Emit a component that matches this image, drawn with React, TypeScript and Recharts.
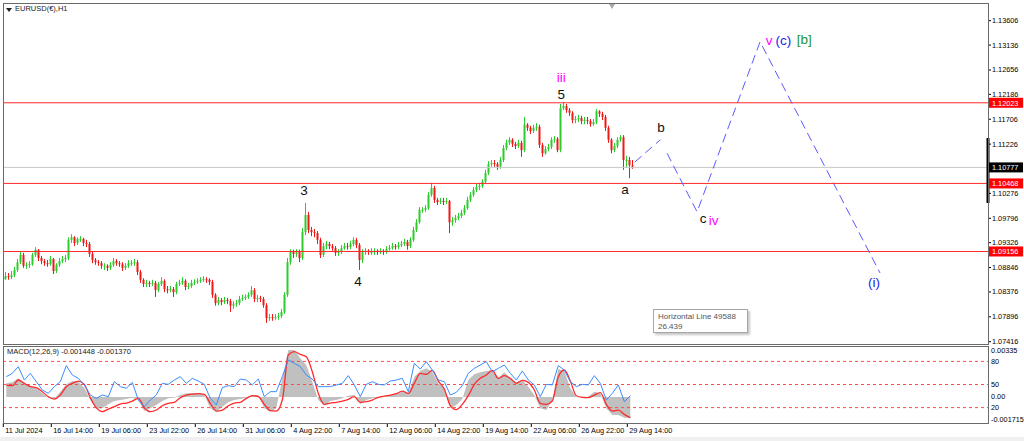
import React from "react";
import {
  ComposedChart,
  Bar,
  Line,
  Area,
  XAxis,
  YAxis,
  ReferenceLine,
  ReferenceDot,
} from "recharts";

// EURUSD H1, 11 Jul - 29 Aug 2024. One candle here stands for 4 hourly bars.
const firstOpen = 1.0862;
const closes = [
  1.0868, 1.0866, 1.087, 1.088, 1.0895, 1.0909, 1.0888, 1.089, 1.0891, 1.0909,
  1.0919, 1.0903, 1.0897, 1.0893, 1.0891, 1.0901, 1.0878, 1.089, 1.0897, 1.0901,
  1.0903, 1.0938, 1.0943, 1.0932, 1.094, 1.094, 1.0932, 1.093, 1.0911, 1.0899,
  1.0895, 1.0893, 1.0888, 1.0888, 1.0884, 1.089, 1.0897, 1.0893, 1.0891, 1.0884,
  1.0888, 1.0893, 1.0893, 1.0895, 1.0876, 1.0861, 1.0853, 1.0855, 1.0853, 1.0855,
  1.0841, 1.0853, 1.0859, 1.0843, 1.0841, 1.0843, 1.0837, 1.0853, 1.0855, 1.0859,
  1.0847, 1.0849, 1.0855, 1.0857, 1.0859, 1.0861, 1.0862, 1.0861, 1.0857, 1.0832,
  1.0816, 1.0822, 1.0818, 1.0822, 1.082, 1.0811, 1.0814, 1.0816, 1.0824, 1.0826,
  1.0828, 1.0832, 1.0841, 1.0824, 1.0826, 1.0824, 1.0812, 1.0787, 1.0789, 1.0787,
  1.0789, 1.0791, 1.0799, 1.0832, 1.0895, 1.0915, 1.0911, 1.0915, 1.0903, 1.0953,
  1.0986, 1.0957, 1.0953, 1.0951, 1.0938, 1.0909, 1.0926, 1.093, 1.0926, 1.0922,
  1.0913, 1.0915, 1.0922, 1.0926, 1.0924, 1.093, 1.0938, 1.0928, 1.0899, 1.0915,
  1.0917, 1.0915, 1.0915, 1.0917, 1.0915, 1.0917, 1.0915, 1.092, 1.0922, 1.0926,
  1.0924, 1.0928, 1.093, 1.0934, 1.0926, 1.0938, 1.0957, 1.0972, 1.0996, 1.0996,
  1.0999, 1.1025, 1.1038, 1.1015, 1.1011, 1.1013, 1.1011, 1.1013, 1.0972, 1.0976,
  1.098, 1.0984, 1.099, 1.0999, 1.1015, 1.1025, 1.1034, 1.104, 1.1042, 1.105,
  1.1067, 1.1084, 1.1086, 1.1084, 1.1079, 1.1092, 1.1115, 1.1125, 1.1131, 1.1123,
  1.1119, 1.1125, 1.1111, 1.116, 1.1154, 1.1148, 1.1154, 1.1156, 1.1121, 1.1105,
  1.1113, 1.1117, 1.1131, 1.1133, 1.1111, 1.1192, 1.1196, 1.1188, 1.1183, 1.1169,
  1.1171, 1.1173, 1.1167, 1.1169, 1.1167, 1.1161, 1.1165, 1.1186, 1.1181, 1.1175,
  1.1154, 1.1131, 1.1111, 1.1119, 1.1131, 1.1136, 1.1092, 1.1092, 1.1082, 1.1079,
];
const highs = [
  1.0876, 1.0874, 1.0878, 1.0886, 1.0901, 1.0915, 1.0913, 1.0895, 1.0897, 1.0913,
  1.0924, 1.092, 1.0907, 1.0901, 1.0899, 1.0907, 1.0903, 1.0893, 1.0903, 1.0907,
  1.0909, 1.0943, 1.0949, 1.0945, 1.0943, 1.0945, 1.0942, 1.0938, 1.0934, 1.0915,
  1.0903, 1.0899, 1.0897, 1.0893, 1.0891, 1.0895, 1.0903, 1.0901, 1.0897, 1.0895,
  1.0893, 1.0899, 1.0899, 1.0901, 1.0899, 1.088, 1.0864, 1.0861, 1.0859, 1.0861,
  1.0859, 1.0857, 1.0866, 1.0862, 1.0849, 1.0849, 1.0847, 1.0857, 1.0861, 1.0866,
  1.0862, 1.0855, 1.0861, 1.0862, 1.0864, 1.0866, 1.0868, 1.0866, 1.0864, 1.0861,
  1.0835, 1.0828, 1.0826, 1.0828, 1.0826, 1.0824, 1.082, 1.0822, 1.083, 1.0832,
  1.0833, 1.0837, 1.0849, 1.0845, 1.0832, 1.083, 1.0828, 1.0816, 1.0795, 1.0795,
  1.0795, 1.0797, 1.0805, 1.0837, 1.0903, 1.092, 1.0919, 1.092, 1.0919, 1.0961,
  1.1009, 1.0992, 1.0963, 1.0959, 1.0955, 1.0942, 1.0932, 1.0936, 1.0934, 1.093,
  1.0926, 1.092, 1.0928, 1.0932, 1.0932, 1.0936, 1.0943, 1.0942, 1.0932, 1.092,
  1.0922, 1.092, 1.0922, 1.0922, 1.092, 1.0922, 1.092, 1.0926, 1.0928, 1.0932,
  1.093, 1.0934, 1.0936, 1.094, 1.0938, 1.0943, 1.0963, 1.0978, 1.1001, 1.1001,
  1.1005, 1.103, 1.1048, 1.1042, 1.1019, 1.1019, 1.1019, 1.1019, 1.1015, 1.0982,
  1.0986, 1.099, 1.0996, 1.1005, 1.1021, 1.103, 1.104, 1.1046, 1.1048, 1.1055,
  1.1073, 1.109, 1.1092, 1.1092, 1.1088, 1.1098, 1.1121, 1.1131, 1.1136, 1.1134,
  1.1127, 1.1131, 1.1129, 1.1175, 1.1163, 1.1158, 1.116, 1.1163, 1.116, 1.1125,
  1.1119, 1.1123, 1.1136, 1.1138, 1.1136, 1.12, 1.1204, 1.12, 1.1192, 1.1186,
  1.1177, 1.1179, 1.1177, 1.1175, 1.1175, 1.1171, 1.1171, 1.119, 1.1188, 1.1185,
  1.1179, 1.1158, 1.1134, 1.1125, 1.1136, 1.114, 1.114, 1.11, 1.1098, 1.1092,
];
const lows = [
  1.0861, 1.0861, 1.0862, 1.0866, 1.0876, 1.0891, 1.0884, 1.0882, 1.0884, 1.0888,
  1.0905, 1.0897, 1.0891, 1.0888, 1.0886, 1.0888, 1.0872, 1.0874, 1.0886, 1.0893,
  1.0895, 1.0899, 1.0932, 1.0926, 1.0928, 1.0934, 1.0926, 1.0924, 1.0905, 1.0893,
  1.089, 1.0888, 1.0882, 1.088, 1.0878, 1.088, 1.0886, 1.0888, 1.0886, 1.0878,
  1.088, 1.0884, 1.0888, 1.0888, 1.087, 1.0855, 1.0847, 1.0847, 1.0847, 1.0849,
  1.0828, 1.0837, 1.0849, 1.0837, 1.0835, 1.0837, 1.0828, 1.0833, 1.0849, 1.0851,
  1.0841, 1.0843, 1.0845, 1.0851, 1.0853, 1.0855, 1.0857, 1.0855, 1.0851, 1.0826,
  1.0811, 1.0812, 1.0812, 1.0814, 1.0814, 1.0799, 1.0805, 1.0809, 1.0812, 1.082,
  1.0822, 1.0824, 1.0828, 1.0818, 1.0818, 1.0818, 1.0807, 1.0778, 1.0782, 1.0782,
  1.0784, 1.0784, 1.0787, 1.0795, 1.0828, 1.089, 1.0903, 1.0905, 1.0895, 1.0899,
  1.0947, 1.0951, 1.0945, 1.0943, 1.093, 1.0903, 1.0905, 1.092, 1.092, 1.0917,
  1.0907, 1.0907, 1.0911, 1.0919, 1.0919, 1.092, 1.0926, 1.0922, 1.088, 1.0893,
  1.0909, 1.0909, 1.0909, 1.0909, 1.0909, 1.0911, 1.0909, 1.0911, 1.0917, 1.0919,
  1.0919, 1.092, 1.0924, 1.0926, 1.0919, 1.0922, 1.0934, 1.0953, 1.0969, 1.099,
  1.0992, 1.0996, 1.1021, 1.1009, 1.1005, 1.1007, 1.1005, 1.1007, 1.0951, 1.0965,
  1.0971, 1.0976, 1.098, 1.0986, 1.0996, 1.1011, 1.1021, 1.103, 1.1034, 1.1038,
  1.1046, 1.1063, 1.1079, 1.1079, 1.1073, 1.1075, 1.1088, 1.1111, 1.1121, 1.1117,
  1.1113, 1.1115, 1.1098, 1.1107, 1.1148, 1.1142, 1.1144, 1.1148, 1.1115, 1.1098,
  1.1102, 1.1109, 1.1113, 1.1125, 1.1107, 1.1107, 1.1188, 1.1183, 1.1177, 1.1163,
  1.1163, 1.1165, 1.1161, 1.1161, 1.1161, 1.1156, 1.1158, 1.1161, 1.1175, 1.1169,
  1.1148, 1.1125, 1.1105, 1.1107, 1.1115, 1.1127, 1.1073, 1.1077, 1.1057, 1.1075,
];

// MACD(12,26,9) window, one point per 8 hourly bars
const macdMain = [
  0.000893, 0.000958, 0.001222, 0.000893, 0.000739, 0.000564, 0.000235, -0.00005, -0.000138, 0.000344,
  0.000827, 0.001046, 0.001002, 0.000607, -0.000204, -0.000796, -0.000752, -0.000489, -0.00027, -0.000204,
  -0.000138, -0.00005, -0.000204, -0.000928, -0.000752, -0.000533, -0.00027, -0.000094, -0.00005, 0.000125,
  0.000235, 0.000235, 0.000235, 0.000125, -0.000752, -0.000971, -0.000643, -0.000357, -0.000204, -0.000138,
  -0.00005, 0.000125, 0.000125, -0.000752, -0.000971, -0.000752, 0.001222, 0.003086, 0.003086, 0.002537,
  0.002099, 0.001002, -0.000204, -0.000577, -0.00027, -0.000204, -0.000094, 0.000081, 0.000125, -0.000489,
  -0.000204, -0.000094, -0.00005, 0.000015, 0.000125, 0.000235, 0.000344, 0.000235, 0.001331, 0.001704,
  0.001879, 0.00166, 0.000893, 0.000607, -0.000752, -0.000533, -0.000138, 0.001112, 0.001485, 0.001616,
  0.001704, 0.00177, 0.001265, 0.001616, 0.001222, 0.000958, 0.001112, 0.000673, 0.000125, -0.000752,
  -0.000862, -0.000204, 0.001836, 0.001704, 0.000564, -0.000007, 0.000015, 0.000015, 0.000344, 0.000235,
  -0.000752, -0.001191, -0.001191, -0.001366, -0.00141,
];
const macdSignal = [
  0.000783, 0.000739, 0.001112, 0.000893, 0.000673, 0.000607, 0.000344, 0.000015, -0.000138, 0.000125,
  0.000673, 0.000893, 0.001046, 0.000827, -0.00005, -0.000708, -0.000971, -0.000796, -0.000643, -0.000467,
  -0.000401, -0.00027, -0.000094, -0.000708, -0.000971, -0.000862, -0.000577, -0.000423, -0.000357, -0.00005,
  0.000125, 0.000191, 0.000213, 0.000169, -0.000423, -0.000928, -0.000862, -0.000577, -0.000401, -0.000357,
  -0.000094, 0.000081, 0.000015, -0.000489, -0.000906, -0.000928, -0.000204, 0.002757, 0.002976, 0.0028,
  0.002647, 0.00166, 0.000235, -0.000489, -0.000401, -0.000357, -0.00027, -0.00016, 0.000015, -0.000357,
  -0.000314, -0.000204, -0.000029, 0.000059, 0.000125, 0.000213, 0.000388, 0.000235, 0.000893, 0.00155,
  0.001485, 0.001748, 0.001046, 0.00052, -0.000577, -0.00084, -0.000489, 0.000081, 0.000827, 0.001222,
  0.001441, 0.001748, 0.001222, 0.001397, 0.001222, 0.000893, 0.00109, 0.000958, 0.000454, -0.000423,
  -0.000489, -0.00027, 0.001331, 0.00177, 0.001046, 0.000081, -0.000029, -0.00005, 0.000125, 0.000279,
  -0.000489, -0.000928, -0.000862, -0.001147, -0.001366,
];
const oscLine = [
  60.2, 64.5, 73.2, 55.8, 64.5, 53.7, 42.9, 38.5, 47.2, 53.7,
  74.5, 62.3, 58.0, 49.4, 36.4, 32.0, 36.4, 34.2, 53.7, 47.2,
  45.0, 52.8, 29.9, 21.2, 29.9, 36.4, 51.5, 50.2, 55.8, 60.2,
  51.5, 58.0, 54.5, 50.2, 32.0, 23.4, 45.9, 48.5, 47.2, 57.1,
  55.8, 49.4, 57.1, 34.2, 40.7, 40.7, 60.2, 81.8, 77.5, 73.2,
  62.3, 57.1, 47.2, 47.2, 47.2, 49.4, 51.5, 61.5, 49.4, 34.2,
  50.2, 53.7, 50.2, 49.4, 54.5, 55.8, 58.0, 40.7, 77.5, 70.1,
  79.7, 68.8, 55.8, 53.7, 36.4, 39.8, 48.5, 64.5, 71.0, 75.3,
  79.7, 66.7, 71.0, 75.3, 64.5, 55.8, 67.5, 55.8, 49.4, 34.2,
  50.2, 49.4, 74.5, 68.8, 53.7, 47.2, 50.2, 49.4, 61.5, 51.5,
  29.9, 38.5, 49.4, 27.7, 35.5,
];
const oscLevels = [80, 50, 20];
const macdTicks = [0.00335, 0, -0.001715];
const macdTickLabels = ["0.00335", "0.00", "-0.001715"];

const priceTicks = [
  1.13606, 1.13136, 1.12656, 1.12186, 1.11706, 1.11226, 1.10276,
  1.09796, 1.09326, 1.08846, 1.08376, 1.07896, 1.07416,
];
const levelLines = [1.12023, 1.10468, 1.09156];
const bidPrice = 1.10777;

const timeTicks = [0, 64, 128, 192, 256, 320, 384, 448, 512, 576, 640, 704, 768, 832];
const timeLabels = [
  "11 Jul 2024", "16 Jul 14:00", "19 Jul 06:00", "23 Jul 22:00", "26 Jul 14:00",
  "31 Jul 06:00", "4 Aug 22:00", "7 Aug 14:00", "12 Aug 06:00", "14 Aug 22:00",
  "19 Aug 14:00", "22 Aug 06:00", "26 Aug 22:00", "29 Aug 14:00",
];

// projected wave path (bar index, price)
const projectionAB = [
  { i: 842, p: 1.1088 },
  { i: 876, p: 1.1131 },
];
const projectionCVI = [
  { i: 885, p: 1.1105 },
  { i: 925, p: 1.0992 },
  { i: 1009, p: 1.132 },
  { i: 1169, p: 1.0874 },
];

const waveLabels = [
  { text: "3", i: 401, p: 1.1034, degree: "minor" },
  { text: "4", i: 473, p: 1.0857, degree: "minor" },
  { text: "iii", i: 744, p: 1.1251, degree: "minute" },
  { text: "5", i: 744, p: 1.1219, degree: "minor" },
  { text: "a", i: 829, p: 1.1036, degree: "minor" },
  { text: "b", i: 877, p: 1.1154, degree: "minor" },
  { text: "c", i: 933, p: 1.098, degree: "minor" },
  { text: "iv", i: 947, p: 1.0976, degree: "minute" },
  { text: "v", i: 1021, p: 1.1322, degree: "minute" },
  { text: "(c)", i: 1040, p: 1.1323, degree: "minuette" },
  { text: "[b]", i: 1068, p: 1.1325, degree: "primary" },
  { text: "(i)", i: 1161, p: 1.0855, degree: "minuette" },
];

const degreeColors: Record<string, string> = {
  minor: "#111111",
  minute: "#ff00ff",
  minuette: "#2222ee",
  primary: "#22962a",
};

const UP = "#2ccc2c";
const DOWN = "#f01818";
const LEVEL = "#ff2a2a";
const UI_FONT = '"Liberation Sans", Arial, sans-serif';

const X_DOMAIN: [number, number] = [-0.4, 1312.9];
const PRICE_DOMAIN: [number, number] = [1.07372, 1.13947];
const MACD_DOMAIN: [number, number] = [-0.001715, 0.00335];

const candles = closes.map((close, k) => ({
  i: 4 * k + 2,
  open: k === 0 ? firstOpen : closes[k - 1],
  close,
  high: highs[k],
  low: lows[k],
  range: [lows[k], highs[k]],
}));

const macdData = macdMain.map((main, m) => ({
  i: 8 * m + 4,
  main,
  signal: macdSignal[m],
  osc: oscLine[m],
}));

const Candle = (props: any) => {
  const { x, y, width, height, payload } = props;
  if (x == null || y == null || !payload) return null;
  const top = Math.min(y, y + height);
  const h = Math.abs(height);
  const { open, close, high, low } = payload;
  const span = high - low || 1e-9;
  const toY = (v: number) => top + ((high - v) / span) * h;
  const color = close >= open ? UP : DOWN;
  const cx = Math.round(x + width / 2);
  const bTop = toY(Math.max(open, close));
  const bBot = toY(Math.min(open, close));
  return (
    <g>
      <line x1={cx + 0.5} x2={cx + 0.5} y1={top} y2={top + h} stroke={color} strokeWidth={1} />
      <rect x={cx - 0.5} y={bTop} width={2} height={Math.max(1, bBot - bTop)} fill={color} />
    </g>
  );
};

const PriceTick = (props: any) => {
  const { x, y, payload } = props;
  return (
    <text x={x} y={y} dominantBaseline="central" fontSize={7.3} fontFamily={UI_FONT} fill="#000">
      {payload.value.toFixed(5)}
    </text>
  );
};

const PriceTag = ({ cx, cy, label, bg }: any) => (
  <g>
    <rect x={cx + 1} y={cy - 5} width={34} height={10} fill={bg} />
    <text x={cx + 4} y={cy + 0.5} dominantBaseline="central" fontSize={7.3} fontFamily={UI_FONT} fill="#fff">
      {label}
    </text>
  </g>
);

const TimeTick = (props: any) => {
  const { x, y, payload } = props;
  const idx = timeTicks.indexOf(payload.value);
  return (
    <text x={x + 2} y={y + 4} fontSize={7.3} fontFamily={UI_FONT} fill="#000" textAnchor="start">
      {timeLabels[idx]}
    </text>
  );
};

const MacdTick = (props: any) => {
  const { x, y, payload } = props;
  const idx = macdTicks.indexOf(payload.value);
  const dy = idx === 0 ? 4 : idx === 2 ? -4 : 0;
  return (
    <text x={x - 1} y={y + dy} dominantBaseline="central" fontSize={7.3} fontFamily={UI_FONT} fill="#000">
      {macdTickLabels[idx]}
    </text>
  );
};

const frame: React.CSSProperties = {
  position: "absolute",
  left: 3,
  border: "1px solid #6a6a6a",
  boxSizing: "border-box",
  pointerEvents: "none",
};

export default function App() {
  return (
    <div
      style={{
        position: "fixed",
        left: 0,
        top: 0,
        width: 1024,
        height: 441,
        background: "#fff",
        overflow: "hidden",
        fontFamily: UI_FONT,
      }}
    >
      {/* price window */}
      <div style={{ position: "absolute", left: 0, top: 0 }}>
        <ComposedChart width={1024} height={346} data={candles} margin={{ top: 3, right: 0, bottom: 2, left: 3 }}>
          <XAxis dataKey="i" type="number" domain={X_DOMAIN} allowDataOverflow hide />
          <YAxis
            orientation="right"
            width={36}
            domain={PRICE_DOMAIN}
            allowDataOverflow
            ticks={priceTicks}
            interval={0}
            axisLine={false}
            tickLine={{ stroke: "#000" }}
            tickSize={3}
            tickMargin={1}
            tick={<PriceTick />}
          />
          <ReferenceLine y={bidPrice} stroke="#c8c8c8" strokeWidth={1} />
          {levelLines.map((lvl) => (
            <ReferenceLine key={lvl} y={lvl} stroke={LEVEL} strokeWidth={1} />
          ))}
          <Bar dataKey="range" barSize={2} shape={<Candle />} isAnimationActive={false} />
          <Line
            data={projectionAB}
            dataKey="p"
            type="linear"
            stroke="#5a5aff"
            strokeWidth={1}
            strokeDasharray="9 5"
            dot={false}
            activeDot={false}
            isAnimationActive={false}
          />
          <Line
            data={projectionCVI}
            dataKey="p"
            type="linear"
            stroke="#5a5aff"
            strokeWidth={1}
            strokeDasharray="9 5"
            dot={false}
            activeDot={false}
            isAnimationActive={false}
          />
          {waveLabels.map((w) => (
            <ReferenceDot
              key={w.text + w.i}
              x={w.i}
              y={w.p}
              r={0}
              ifOverflow="visible"
              shape={(p: any) => (
                <text
                  x={p.cx}
                  y={p.cy}
                  textAnchor="middle"
                  dominantBaseline="central"
                  fontSize={13.5}
                  fontFamily={UI_FONT}
                  fill={degreeColors[w.degree]}
                >
                  {w.text}
                </text>
              )}
            />
          ))}
          <ReferenceLine
            segment={[
              { x: X_DOMAIN[1], y: 1.11344 },
              { x: X_DOMAIN[1], y: 1.10091 },
            ]}
            stroke="#000"
            strokeWidth={3}
            ifOverflow="visible"
          />
          {levelLines.map((lvl) => (
            <ReferenceDot
              key={"tag" + lvl}
              x={X_DOMAIN[1]}
              y={lvl}
              r={0}
              ifOverflow="visible"
              shape={(p: any) => <PriceTag cx={p.cx} cy={p.cy} label={lvl.toFixed(5)} bg="#ff0000" />}
            />
          ))}
          <ReferenceDot
            x={X_DOMAIN[1]}
            y={bidPrice}
            r={0}
            ifOverflow="visible"
            shape={(p: any) => <PriceTag cx={p.cx} cy={p.cy} label={bidPrice.toFixed(5)} bg="#000" />}
          />
        </ComposedChart>
      </div>

      {/* MACD window */}
      <div style={{ position: "absolute", left: 0, top: 346 }}>
        <ComposedChart width={1024} height={95} data={macdData} margin={{ top: 0, right: 0, bottom: 0, left: 3 }}>
          <XAxis
            dataKey="i"
            type="number"
            domain={X_DOMAIN}
            allowDataOverflow
            ticks={timeTicks}
            interval={0}
            height={18}
            axisLine={false}
            tickLine={{ stroke: "#000" }}
            tickSize={4}
            tick={<TimeTick />}
          />
          <YAxis
            yAxisId="macd"
            orientation="right"
            width={36}
            domain={MACD_DOMAIN}
            allowDataOverflow
            ticks={macdTicks}
            interval={0}
            axisLine={false}
            tickLine={false}
            tickSize={3}
            tickMargin={1}
            tick={<MacdTick />}
          />
          <YAxis yAxisId="osc" hide domain={[0, 100]} allowDataOverflow />
          <Area
            yAxisId="macd"
            dataKey="main"
            type="linear"
            baseValue={0}
            stroke="none"
            fill="#c0c0c0"
            fillOpacity={1}
            dot={false}
            activeDot={false}
            isAnimationActive={false}
          />
          {oscLevels.map((lvl) => (
            <ReferenceLine key={lvl} yAxisId="osc" y={lvl} stroke="#ff4a4a" strokeDasharray="3 3" />
          ))}
          {oscLevels.map((lvl) => (
            <ReferenceDot
              key={"l" + lvl}
              yAxisId="osc"
              x={X_DOMAIN[1]}
              y={lvl}
              r={0}
              ifOverflow="visible"
              shape={(p: any) => (
                <text x={p.cx + 3} y={p.cy} dominantBaseline="central" fontSize={7.3} fontFamily={UI_FONT} fill="#000">
                  {lvl}
                </text>
              )}
            />
          ))}
          <Line
            yAxisId="macd"
            dataKey="signal"
            type="monotone"
            stroke="#ff2a2a"
            strokeWidth={1.3}
            dot={false}
            activeDot={false}
            isAnimationActive={false}
          />
          <Line
            yAxisId="osc"
            dataKey="osc"
            type="linear"
            stroke="#3a8cff"
            strokeWidth={1}
            dot={false}
            activeDot={false}
            isAnimationActive={false}
          />
        </ComposedChart>
      </div>

      {/* window frames */}
      <div style={{ ...frame, top: 3, width: 986, height: 342 }} />
      <div style={{ ...frame, top: 346, width: 986, height: 78 }} />

      {/* chart shift marker */}
      <div
        style={{
          position: "absolute",
          left: 609,
          top: 4,
          width: 0,
          height: 0,
          borderLeft: "3px solid transparent",
          borderRight: "3px solid transparent",
          borderTop: "5px solid #a8a8a8",
        }}
      />

      {/* window captions */}
      <div
        style={{
          position: "absolute",
          left: 6,
          top: 8,
          width: 0,
          height: 0,
          borderLeft: "3px solid transparent",
          borderRight: "3px solid transparent",
          borderTop: "4px solid #222",
        }}
      />
      <div style={{ position: "absolute", left: 15, top: 4, fontSize: 7.5, color: "#222", lineHeight: "10px" }}>
        EURUSD(€),H1
      </div>
      <div style={{ position: "absolute", left: 7, top: 347, fontSize: 7.5, color: "#222", lineHeight: "10px" }}>
        MACD(12,26,9) -0.001448 -0.001370
      </div>

      {/* object tooltip */}
      <div
        style={{
          position: "absolute",
          left: 653,
          top: 309,
          width: 95,
          height: 24,
          boxSizing: "border-box",
          border: "1px solid #a6a6a6",
          background: "#fff",
          boxShadow: "2px 2px 2px rgba(0,0,0,0.22)",
          padding: "2px 4px",
          fontSize: 8,
          lineHeight: "10px",
          color: "#555",
        }}
      >
        <div>Horizontal Line 49588</div>
        <div>26.439</div>
      </div>

      <div style={{ position: "absolute", left: 0, top: 437, width: 1024, height: 4, background: "#f0f0f0" }} />
    </div>
  );
}
